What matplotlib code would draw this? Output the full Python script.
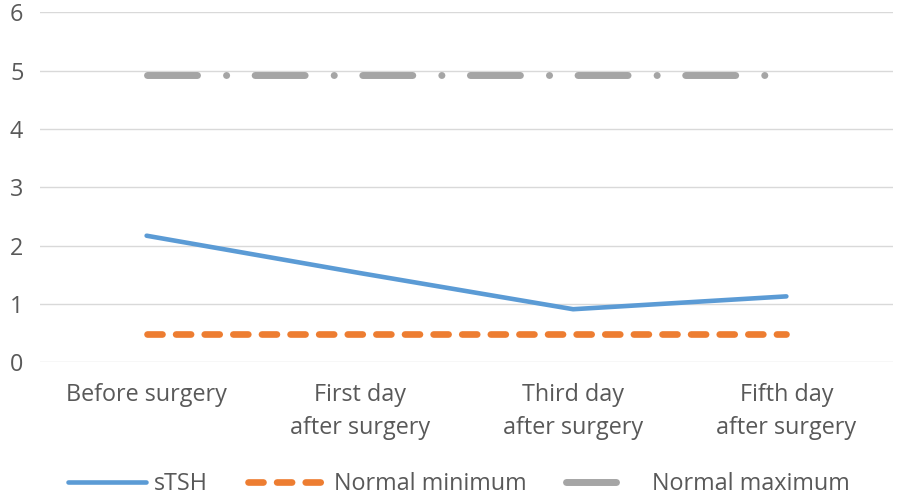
import matplotlib
matplotlib.use('Agg')
import matplotlib.pyplot as plt

plt.rcParams['font.family'] = ['Open Sans', 'DejaVu Sans']
plt.rcParams['lines.scale_dashes'] = False

categories = ['Before surgery', 'First day\nafter surgery', 'Third day\nafter surgery', 'Fifth day\nafter surgery']
stsh = [2.17, 1.53, 0.91, 1.13]
normal_min = [0.48, 0.48, 0.48, 0.48]
normal_max = [4.92, 4.92, 4.92, 4.92]

text_color = '#595959'
fs = 16.8

fig = plt.figure(figsize=(8.98, 5), dpi=100)
ax = fig.add_axes([40 / 898, 1 - 362.3 / 500, 853 / 898, 350 / 500])

x = range(len(categories))
ax.plot(x, stsh, color='#5B9BD5', lw=3.3, solid_capstyle='round',
        solid_joinstyle='round', label='sTSH')
ax.plot(x, normal_min, color='#ED7D31', lw=4.8, dashes=(10.8, 9.8),
        dash_capstyle='round', label='Normal minimum')
ax.plot(x, normal_max, color='#A5A5A5', lw=5.0, dashes=(36, 20.9, 0.1, 20.5),
        dash_capstyle='round', label='Normal maximum')

ax.set_xlim(-0.5, 3.5)
ax.set_ylim(0, 6)
ax.set_yticks(range(7))
ax.set_xticks(list(x))
ax.set_xticklabels(categories, linespacing=1.48)
ax.grid(axis='y', color='#D9D9D9', lw=1.0)
ax.set_axisbelow(True)
for s in ax.spines.values():
    s.set_visible(False)
ax.tick_params(axis='both', length=0, labelsize=fs, labelcolor=text_color)
ax.tick_params(axis='y', pad=12)
ax.tick_params(axis='x', pad=15)

fig.legend(loc='center', bbox_to_anchor=(459 / 898, 1 - 484 / 500), ncol=3,
           frameon=False, fontsize=fs, labelcolor=text_color,
           handlelength=3.35, handletextpad=0.34, columnspacing=1.7,
           borderpad=0, borderaxespad=0)

fig.savefig('out.png', dpi=100)
